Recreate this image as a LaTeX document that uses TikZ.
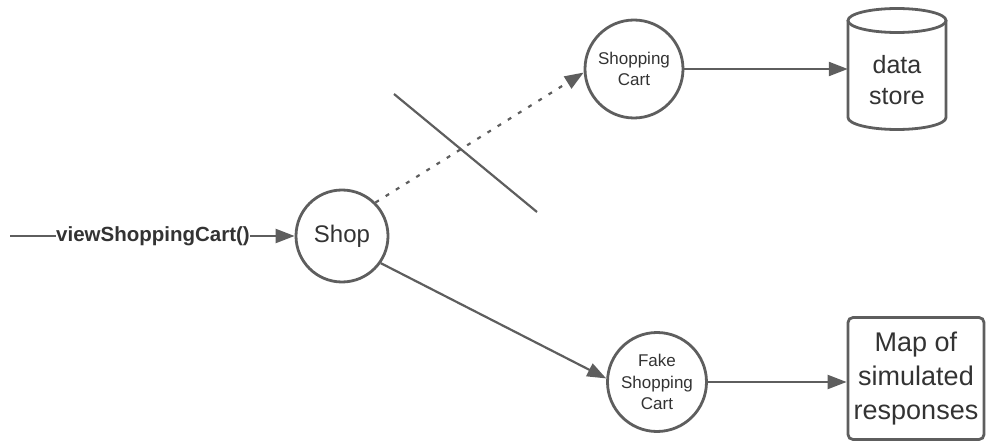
\documentclass[tikz,border=0pt]{standalone}
\usepackage{fontspec}
\setmainfont{Liberation Sans}
\usetikzlibrary{arrows.meta}
\definecolor{ln}{HTML}{5E5E5E}
\definecolor{tx}{HTML}{333333}
\begin{document}
\begin{tikzpicture}[x=1pt,y=1pt,
  wire/.style={draw=ln, line width=2.2pt},
  tip/.style={-{Triangle[length=19pt,width=14pt]}},
  proc/.style={circle, draw=ln, line width=2.8pt, fill=white, text=tx,
    align=center, inner sep=0pt},
  small/.style={font=\fontsize{17}{21.5}\selectfont},
  big/.style={font=\fontsize{25}{31}\selectfont}]
\useasboundingbox (0,0) rectangle (986,-441);

% processes
\node[proc, minimum size=92pt, font=\fontsize{24}{28}\selectfont] (shop) at (342,-236) {Shop};
\node[proc, minimum size=98pt, small] (cart) at (634,-69) {Shopping\\Cart};
\node[proc, minimum size=99pt, small] (fake) at (657,-382) {Fake\\Shopping\\Cart};

% data store (cylinder)
\node[text=tx, align=center, big, minimum width=98pt, inner sep=0pt]
  (store) at (897,-80) {data\\store};
\draw[ln, line width=2.8pt] (897,-20.5) ellipse [x radius=49pt, y radius=12pt];
\draw[ln, line width=2.8pt] (848,-20.5) -- (848,-117.5)
  arc[start angle=180, end angle=360, x radius=49pt, y radius=12pt] -- (946,-20.5);

% simulated responses
\node[draw=ln, line width=2.8pt, rounded corners=5pt, text=tx, align=center,
  minimum width=136pt, minimum height=122pt, inner sep=0pt,
  font=\fontsize{27}{34}\selectfont] (map) at (916,-378.5) {Map of\\simulated\\responses};

% incoming call
\coordinate (src) at (10,-236);
\node[text=tx, inner sep=0pt, font=\bfseries\fontsize{20.5}{24}\selectfont] (call) at (153,-236) {viewShoppingCart()};
\draw[wire] (src) -- (call.west);
\draw[wire, tip] (call.east) -- (shop.west);

% connections
\draw[wire, tip, dash pattern=on 4pt off 8pt] (shop.45) -- (cart.184);
\draw[wire, tip] (shop.-35) -- (fake.176);
\draw[wire, tip] (cart.east) -- (cart.east -| store.west);
\draw[wire, tip] (fake.east) -- (fake.east -| map.west);

% cut through the real dependency
\coordinate (cutA) at (394,-94);
\coordinate (cutB) at (537,-212);
\draw[wire] (cutA) -- (cutB);
\end{tikzpicture}
\end{document}
